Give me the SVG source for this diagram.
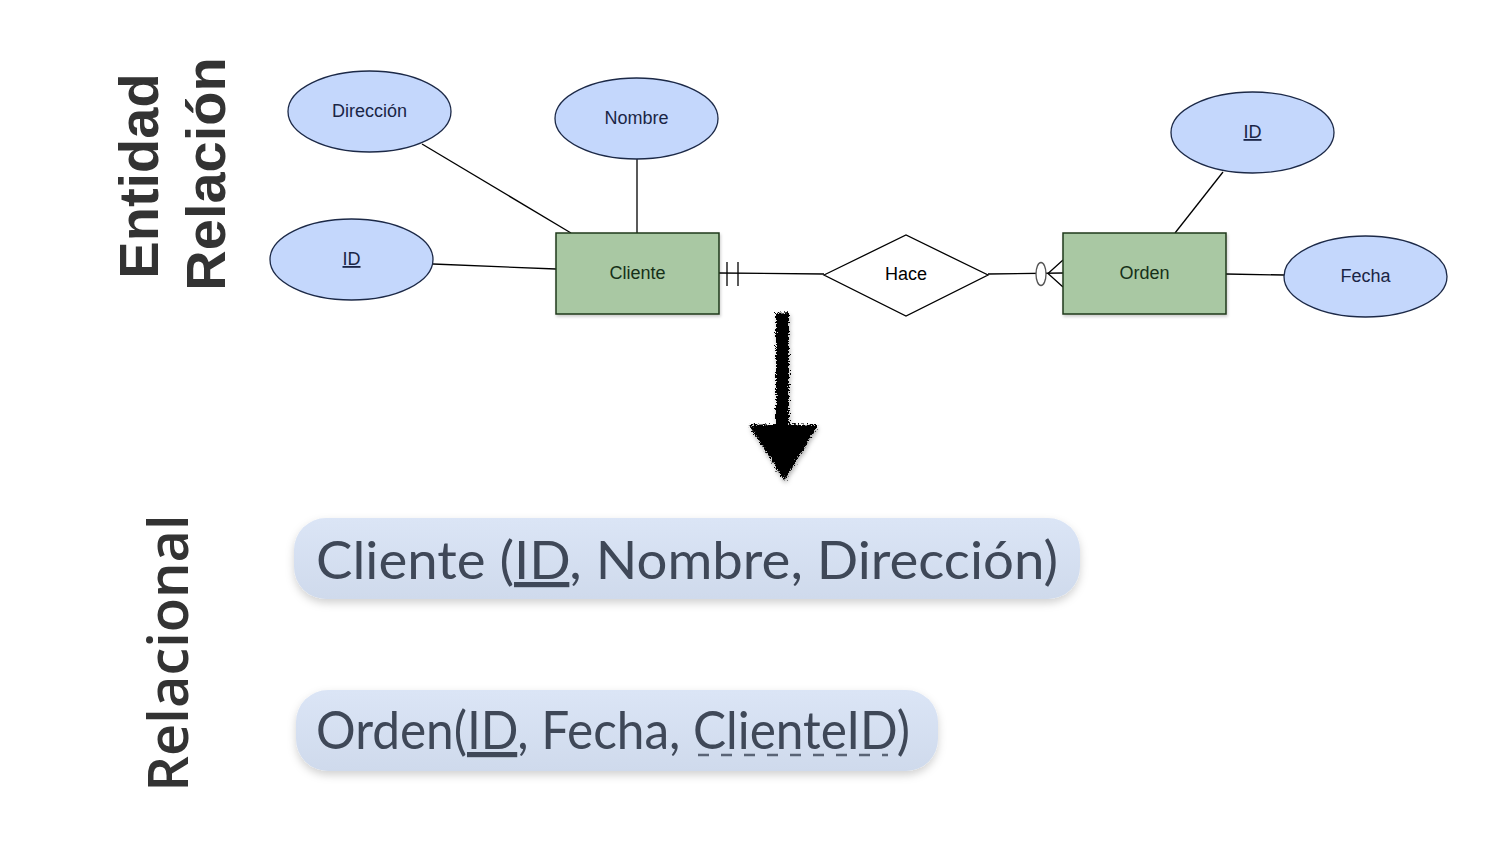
<svg xmlns="http://www.w3.org/2000/svg" width="1493" height="844" viewBox="0 0 1493 844">
<defs>
<style>
.attr{fill:#c4d7fc;stroke:#1c2947;stroke-width:1.3}
.ent{fill:#a9c8a3;stroke:#1f3a1c;stroke-width:1.5}
.rel{fill:#ffffff;stroke:#000;stroke-width:1.3}
.lbl{font-family:"Liberation Sans",Arial,sans-serif;font-size:18px;text-anchor:middle}
.al{fill:#1a2545}
.el{fill:#163018}
.ln{stroke:#000;stroke-width:1.3;fill:none}
.title{font-family:"Liberation Sans",Arial,sans-serif;font-weight:bold;font-size:56px;fill:#333;text-anchor:middle}
.title2{font-family:"Open Sans",sans-serif;font-weight:600;font-size:56px;fill:#333;text-anchor:middle}
.box{fill:url(#bg)}
.rt{font-family:Lato,"Open Sans",sans-serif;font-size:52px;fill:#3f4858}
</style>
<linearGradient id="bg" x1="0" y1="0" x2="0" y2="1">
<stop offset="0" stop-color="#dbe5f6"/>
<stop offset="1" stop-color="#cfdaec"/>
</linearGradient>
<filter id="sh" x="-10%" y="-30%" width="120%" height="170%">
<feDropShadow dx="0" dy="4" stdDeviation="4" flood-color="#000" flood-opacity="0.18"/>
</filter>
<filter id="sh2" x="-10%" y="-10%" width="130%" height="130%">
<feDropShadow dx="1" dy="2" stdDeviation="1.5" flood-color="#000" flood-opacity="0.2"/>
</filter>
<filter id="rough" x="-20%" y="-10%" width="140%" height="120%">
<feTurbulence type="fractalNoise" baseFrequency="0.7" numOctaves="2" seed="3" result="n"/>
<feDisplacementMap in="SourceGraphic" in2="n" scale="7" xChannelSelector="R" yChannelSelector="G" result="d"/>
<feDropShadow dx="1" dy="3" stdDeviation="2" flood-color="#000" flood-opacity="0.3"/>
</filter>
</defs>
<rect width="1493" height="844" fill="#fff"/>

<!-- titles -->
<text class="title" transform="translate(158,176) rotate(-90)">Entidad</text>
<text class="title" transform="translate(225,174) rotate(-90)">Relación</text>
<text class="title2" transform="translate(188,653) rotate(-90)">Relacional</text>

<!-- connectors -->
<g id="connectors">
<line class="ln" x1="422" y1="144" x2="571" y2="233"/>
<line class="ln" x1="637" y1="159" x2="637" y2="233"/>
<line class="ln" x1="433" y1="264" x2="556" y2="269"/>
<line class="ln" x1="719" y1="273" x2="824" y2="274"/>
<line class="ln" x1="727" y1="262" x2="727" y2="286"/>
<line class="ln" x1="738" y1="262" x2="738" y2="286"/>
<line class="ln" x1="988" y1="274" x2="1063" y2="273"/>
<ellipse cx="1041" cy="274" rx="5" ry="11.5" fill="#fff" stroke="#555" stroke-width="1.3"/>
<polyline class="ln" points="1063,260 1048,273.5 1063,287"/>
<line class="ln" x1="1223" y1="172" x2="1175" y2="233"/>
<line class="ln" x1="1226" y1="274" x2="1284" y2="275"/>
</g>

<!-- attributes -->
<g id="attr-direccion">
<ellipse class="attr" cx="369.5" cy="111.5" rx="81.5" ry="40.5"/>
<text class="lbl al" x="369.5" y="117">Dirección</text>
</g>
<g id="attr-nombre">
<ellipse class="attr" cx="636.5" cy="118.5" rx="81.5" ry="40.5"/>
<text class="lbl al" x="636.5" y="124">Nombre</text>
</g>
<g id="attr-id-cliente">
<ellipse class="attr" cx="351.5" cy="259.5" rx="81.5" ry="40.5"/>
<text class="lbl al" x="351.5" y="265" text-decoration="underline">ID</text>
</g>
<g id="attr-id-orden">
<ellipse class="attr" cx="1252.5" cy="132.5" rx="81.5" ry="40.5"/>
<text class="lbl al" x="1252.5" y="138" text-decoration="underline">ID</text>
</g>
<g id="attr-fecha">
<ellipse class="attr" cx="1365.5" cy="276.5" rx="81.5" ry="40.5"/>
<text class="lbl al" x="1365.5" y="282">Fecha</text>
</g>

<!-- entities -->
<g id="ent-cliente">
<rect class="ent" x="556" y="233" width="163" height="81" filter="url(#sh2)"/>
<text class="lbl el" x="637.5" y="279">Cliente</text>
</g>
<g id="ent-orden">
<rect class="ent" x="1063" y="233" width="163" height="81" filter="url(#sh2)"/>
<text class="lbl el" x="1144.5" y="279">Orden</text>
</g>

<!-- relationship -->
<g id="rel-hace">
<polygon class="rel" points="824,275 906,235 988,275 906,316"/>
<text class="lbl" x="906" y="280" fill="#000">Hace</text>
</g>

<!-- arrow -->
<g id="arrow" filter="url(#rough)">
<polygon points="776,313 789,312 789,424 818,425 784,481 749,425 776,424" fill="#000"/>
</g>

<!-- relational boxes -->
<g id="rel-cliente">
<rect class="box" x="294" y="518" width="786" height="81" rx="32" filter="url(#sh)"/>
<text class="rt" x="316" y="579" textLength="742" lengthAdjust="spacingAndGlyphs">Cliente (<tspan text-decoration="underline">ID</tspan>, Nombre, Dirección)</text>
</g>
<g id="rel-orden">
<rect class="box" x="296" y="690" width="642" height="81" rx="32" filter="url(#sh)"/>
<text class="rt" x="316" y="749" textLength="594" lengthAdjust="spacingAndGlyphs">Orden(<tspan text-decoration="underline">ID</tspan>, Fecha, ClienteID)</text>
<line x1="698" y1="755" x2="888" y2="755" stroke="#5a6476" stroke-width="2.5" stroke-dasharray="11 12"/>
</g>
</svg>
